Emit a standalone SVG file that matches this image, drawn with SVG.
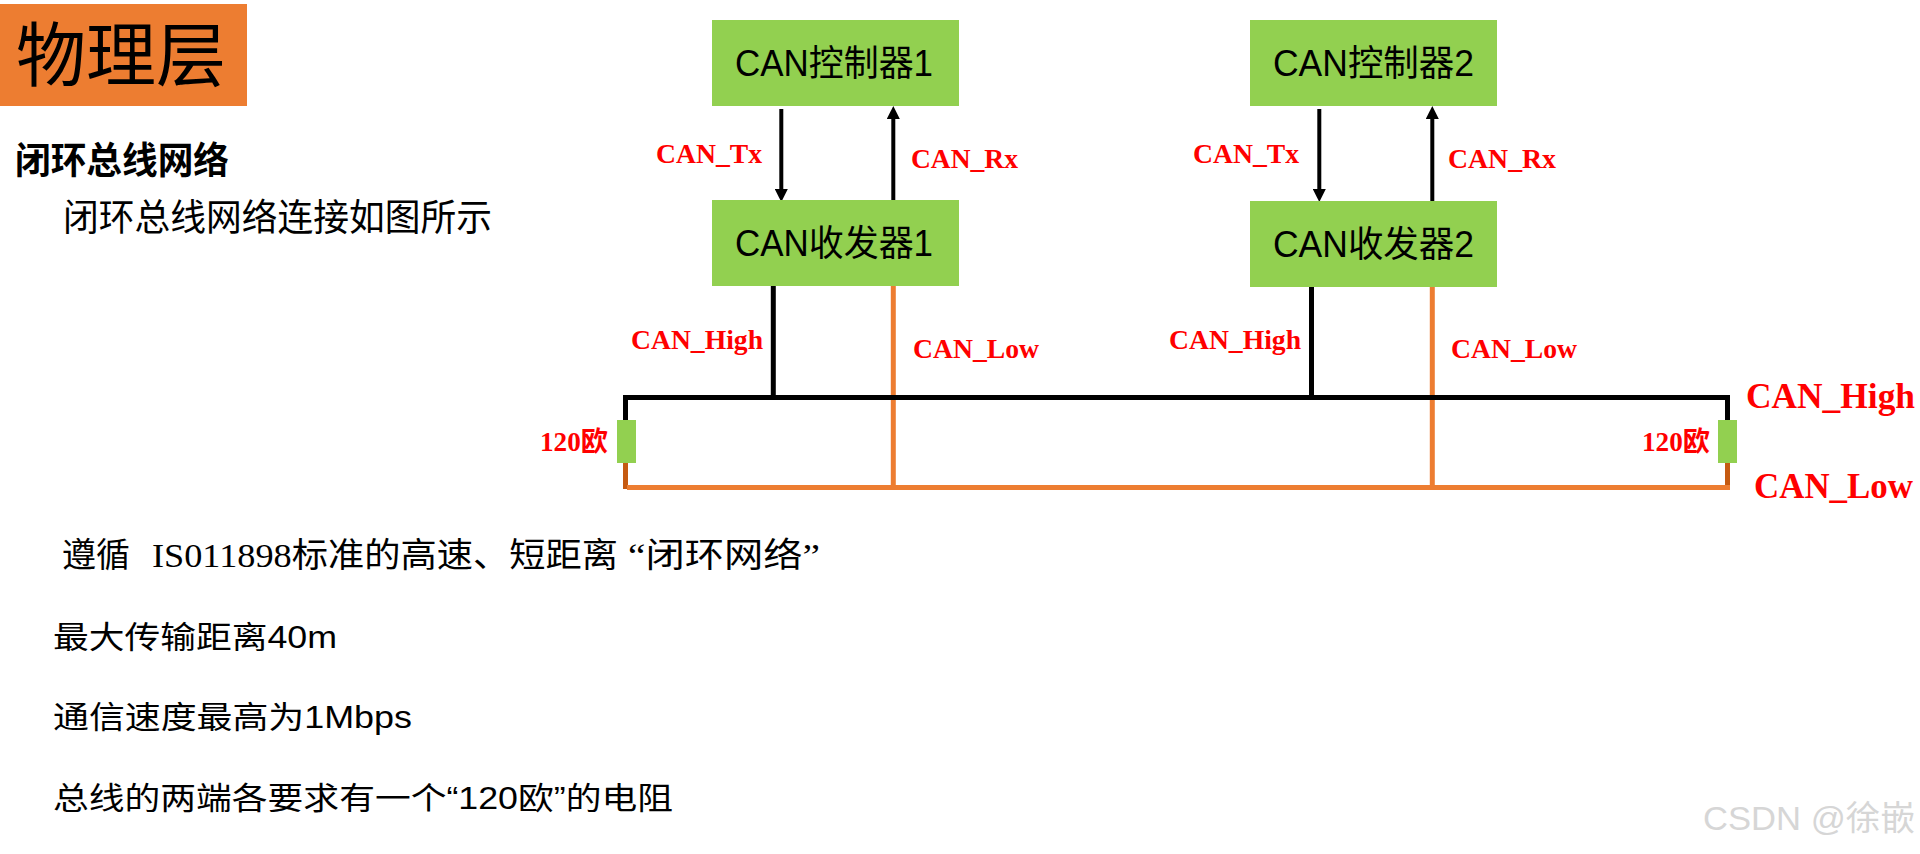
<svg xmlns="http://www.w3.org/2000/svg" width="1920" height="854" viewBox="0 0 1920 854">
<style>
.box{fill:#92D050}
.boxtxt{font-family:"Liberation Sans","Noto Sans CJK SC",sans-serif;font-size:36px;fill:#000}
.lbl{font-family:"Liberation Serif","Noto Sans CJK SC",serif;font-weight:bold;font-size:27px;fill:#FF0000}
.big{font-size:35px}
.cjk{font-family:"Noto Sans CJK SC",sans-serif;fill:#000}
.body{font-family:"Liberation Sans","Noto Sans CJK SC",sans-serif;font-size:31px;fill:#000}
.ser{font-family:"Liberation Serif","Noto Sans CJK SC",serif;font-size:34px;fill:#000}
.blk{stroke:#000;fill:none}
.org{stroke:#ED7D31;fill:none;stroke-width:5}
.brn{stroke:#C55A11;fill:none;stroke-width:5}
</style>
<defs>
<marker id="arr" viewBox="0 0 13 13" refX="0" refY="6.5" markerWidth="13" markerHeight="13" markerUnits="userSpaceOnUse" orient="auto">
<path d="M0,0 L13,6.5 L0,13 z" fill="#000"/>
</marker>
</defs>
<rect width="1920" height="854" fill="#fff"/>

<g id="title">
<rect x="0" y="4" width="247" height="102" fill="#ED7D31"/>
<text class="cjk" x="16" y="81" font-size="70" textLength="210" lengthAdjust="spacingAndGlyphs">物理层</text>
</g>
<g id="heading">
<text class="cjk" x="15" y="174" font-size="37" font-weight="bold" textLength="214" lengthAdjust="spacingAndGlyphs">闭环总线网络</text>
<text class="cjk" x="63" y="231" font-size="37" textLength="429" lengthAdjust="spacingAndGlyphs">闭环总线网络连接如图所示</text>
</g>

<g id="connectors">
<line class="blk" stroke-width="4" x1="781.3" y1="109" x2="781.3" y2="189" marker-end="url(#arr)"/>
<line class="blk" stroke-width="4" x1="893.3" y1="200" x2="893.3" y2="119" marker-end="url(#arr)"/>
<line class="blk" stroke-width="4" x1="1319.3" y1="109" x2="1319.3" y2="189" marker-end="url(#arr)"/>
<line class="blk" stroke-width="4" x1="1432.3" y1="201" x2="1432.3" y2="119" marker-end="url(#arr)"/>
<path class="brn" d="M625.5,463 V489"/>
<path class="brn" d="M1727.5,463 V489"/>
<path class="org" d="M627,487.5 H1730"/>
<path class="org" d="M893.3,286 V487"/>
<path class="org" d="M1432.3,287 V487"/>
<path class="blk" stroke-width="5" d="M625.5,420 V397.5 H1727.5 V420"/>
<path class="blk" stroke-width="5" d="M773.3,286 V397"/>
<path class="blk" stroke-width="5" d="M1311.5,287 V397"/>
</g>

<g id="controller1">
<rect class="box" x="712" y="20" width="247" height="86"/>
<text class="boxtxt" x="735" y="76" textLength="198" lengthAdjust="spacingAndGlyphs">CAN控制器1</text>
</g>
<g id="controller2">
<rect class="box" x="1250" y="20" width="247" height="86"/>
<text class="boxtxt" x="1273" y="76" textLength="201" lengthAdjust="spacingAndGlyphs">CAN控制器2</text>
</g>
<g id="transceiver1">
<rect class="box" x="712" y="200" width="247" height="86"/>
<text class="boxtxt" x="735" y="256" textLength="198" lengthAdjust="spacingAndGlyphs">CAN收发器1</text>
</g>
<g id="transceiver2">
<rect class="box" x="1250" y="201" width="247" height="86"/>
<text class="boxtxt" x="1273" y="257" textLength="201" lengthAdjust="spacingAndGlyphs">CAN收发器2</text>
</g>
<g id="resistorL">
<rect class="box" x="617" y="420" width="19" height="43"/>
<text class="lbl" x="540" y="451" textLength="68" lengthAdjust="spacingAndGlyphs">120欧</text>
</g>
<g id="resistorR">
<rect class="box" x="1718" y="420" width="19" height="43"/>
<text class="lbl" x="1642" y="451" textLength="68" lengthAdjust="spacingAndGlyphs">120欧</text>
</g>

<g id="labels">
<text class="lbl" x="656" y="163" textLength="106" lengthAdjust="spacingAndGlyphs">CAN_Tx</text>
<text class="lbl" x="911" y="168" textLength="107" lengthAdjust="spacingAndGlyphs">CAN_Rx</text>
<text class="lbl" x="1193" y="163" textLength="106" lengthAdjust="spacingAndGlyphs">CAN_Tx</text>
<text class="lbl" x="1448" y="168" textLength="108" lengthAdjust="spacingAndGlyphs">CAN_Rx</text>
<text class="lbl" x="631" y="349" textLength="132" lengthAdjust="spacingAndGlyphs">CAN_High</text>
<text class="lbl" x="913" y="358" textLength="126" lengthAdjust="spacingAndGlyphs">CAN_Low</text>
<text class="lbl" x="1169" y="349" textLength="132" lengthAdjust="spacingAndGlyphs">CAN_High</text>
<text class="lbl" x="1451" y="358" textLength="126" lengthAdjust="spacingAndGlyphs">CAN_Low</text>
<text class="lbl big" x="1746" y="408" textLength="169" lengthAdjust="spacingAndGlyphs">CAN_High</text>
<text class="lbl big" x="1754" y="498" textLength="159" lengthAdjust="spacingAndGlyphs">CAN_Low</text>
</g>

<g id="notes">
<text class="ser" y="567"><tspan x="62" textLength="68" lengthAdjust="spacingAndGlyphs">遵循</tspan><tspan x="152" textLength="466" lengthAdjust="spacingAndGlyphs">IS011898标准的高速、短距离</tspan><tspan x="628" textLength="192" lengthAdjust="spacingAndGlyphs">“闭环网络”</tspan></text>
<text class="body" x="53" y="648" textLength="284" lengthAdjust="spacingAndGlyphs">最大传输距离40m</text>
<text class="body" x="53" y="728" textLength="359" lengthAdjust="spacingAndGlyphs">通信速度最高为1Mbps</text>
<text class="body" x="53" y="809" textLength="620" lengthAdjust="spacingAndGlyphs">总线的两端各要求有一个“120欧”的电阻</text>
</g>

<g id="watermark">
<text x="1703" y="830" font-family="'Liberation Sans','Noto Sans CJK SC',sans-serif" font-size="34" fill="#d6d6d6" textLength="212" lengthAdjust="spacingAndGlyphs">CSDN @徐嵌</text>
</g>
</svg>
